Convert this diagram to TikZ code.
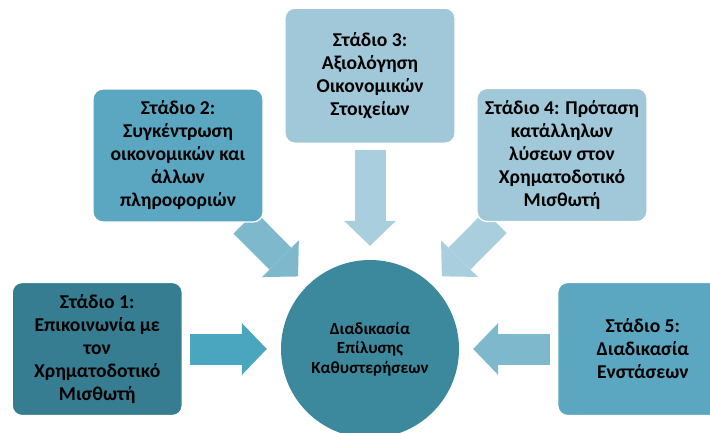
\documentclass[tikz,border=0pt]{standalone}
\usepackage{fontspec}
\setmainfont{Carlito}
\usepackage{xcolor}
\usepackage{tikz}
\usetikzlibrary{arrows.meta,positioning,backgrounds}
\definecolor{stagedark}{RGB}{54,125,145}
\definecolor{stagemid}{RGB}{91,167,193}
\definecolor{stagelight}{RGB}{160,200,216}
\definecolor{hubteal}{RGB}{60,137,158}
\definecolor{arrdark}{RGB}{74,166,190}
\definecolor{arrmid}{RGB}{125,184,205}
\definecolor{arrlight}{RGB}{169,207,222}

\begin{document}
\begin{tikzpicture}[
        x=1pt, y=-1pt,
        stagebox/.style={draw=white, line width=1.2pt, rounded corners=10pt, align=center, minimum width=170pt, minimum height=133pt, text=black, font=\fontsize{19.6}{23}\selectfont\bfseries},
        hubnode/.style={circle, minimum size=178pt, inner sep=0pt, fill=hubteal, align=center, text=black, font=\fontsize{17}{19.5}\selectfont\bfseries},
        blockarr/.style={line width=31pt, -{Triangle[length=25pt, width=52pt, line width=0pt]}}
    ]
    \clip (0,0) rectangle (710,432);

    \node[hubnode] (hub) at (370,349) {Διαδικασία\\Επίλυσης\\Καθυστερήσεων};

    \node[stagebox, fill=stagedark, left=98pt of hub] (stage1) {Στάδιο 1:\\Επικοινωνία με\\τον\\Χρηματοδοτικό\\Μισθωτή};
    \node[stagebox, fill=stagemid] (stage2) at (178,155.5) {Στάδιο 2:\\Συγκέντρωση\\οικονομικών και\\άλλων\\πληροφοριών};
    \node[stagebox, fill=stagelight, minimum height=135pt, above=116pt of hub] (stage3) {Στάδιο 3:\\Αξιολόγηση\\Οικονομικών\\Στοιχείων};
    \node[stagebox, fill=stagelight] (stage4) at (562,155) {Στάδιο 4: Πρόταση\\κατάλληλων\\λύσεων στον\\Χρηματοδοτικό\\Μισθωτή};
    \node[stagebox, fill=stagemid, right=98pt of hub] (stage5) {Στάδιο 5:\\Διαδικασία\\Ενστάσεων};

    \begin{scope}[on background layer]
    \draw[blockarr, arrdark, shorten <=7pt, shorten >=14pt] (stage1) -- (hub);
    \draw[blockarr, arrmid, shorten >=13pt] (stage2) -- (hub);
    \draw[blockarr, arrlight, shorten <=6pt, shorten >=14pt] (stage3) -- (hub);
    \draw[blockarr, arrlight, shorten >=13pt] (stage4) -- (hub);
    \draw[blockarr, arrmid, shorten <=7pt, shorten >=14pt] (stage5) -- (hub);
    \end{scope}
    \end{tikzpicture}
\end{document}
